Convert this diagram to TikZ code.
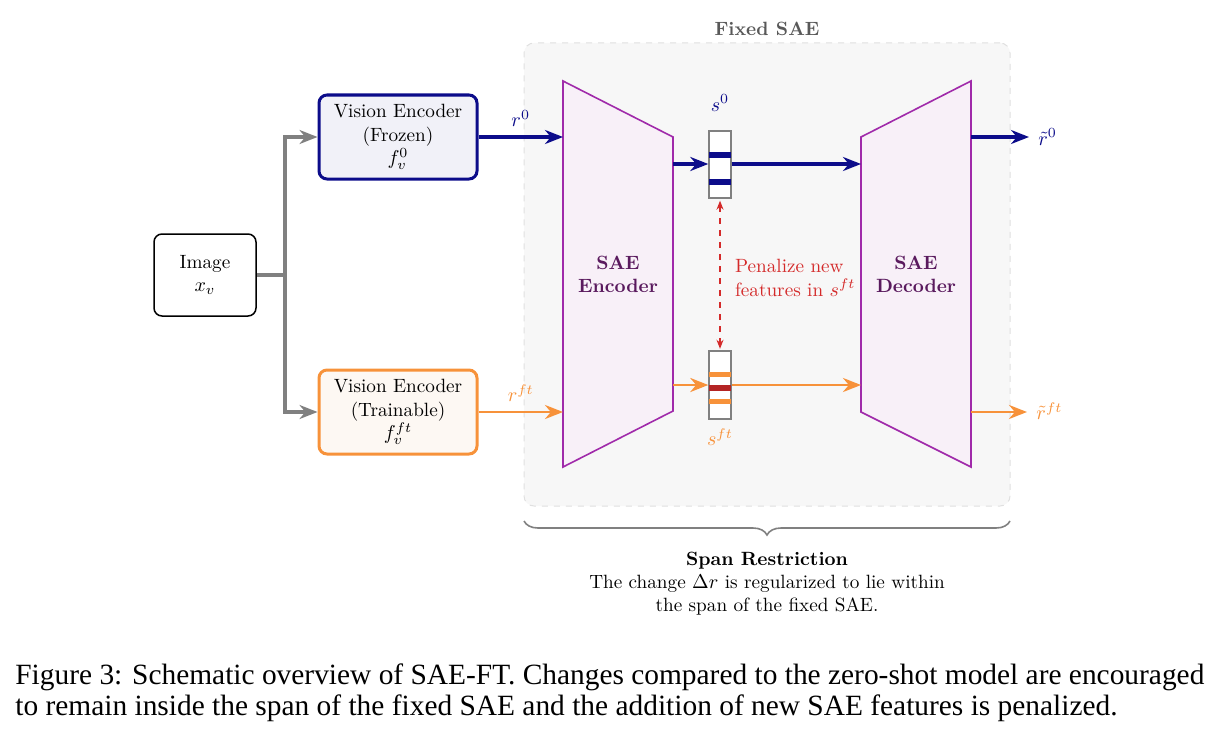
\documentclass[tikz,border=0pt]{standalone}
\usepackage{fontspec}
\newfontfamily\capfont{Liberation Serif}
\usetikzlibrary{arrows.meta,decorations.pathreplacing,calc}
\definecolor{navyc}{HTML}{0C0C8A}
\definecolor{orangec}{HTML}{F7923A}
\definecolor{redc}{HTML}{D42A2A}
\definecolor{purplec}{HTML}{A02AAA}
\definecolor{purpletext}{HTML}{5A1A5E}
\definecolor{grayc}{HTML}{808080}
\definecolor{saebg}{HTML}{F7F7F7}
\definecolor{trapfill}{HTML}{F8F0F8}
\definecolor{frozenfill}{HTML}{F1F1F8}
\definecolor{trainfill}{HTML}{FDF8F3}
\tikzset{
  every node/.style={font=\fontsize{9.6}{11.6}\selectfont},
  imgbox/.style={draw=black, line width=0.75pt, rounded corners=4pt, minimum width=51pt, minimum height=41pt, align=center, fill=white},
  encbox/.style={rounded corners=4pt, minimum width=79pt, minimum height=42pt, align=center, line width=1.5pt},
  graylink/.style={draw=grayc, line width=1.6pt, -{Stealth[length=9pt,width=7pt]}},
  navylink/.style={draw=navyc, line width=1.6pt, -{Stealth[length=9pt,width=7pt]}},
  orangelink/.style={draw=orangec, line width=1.45pt, -{Stealth[length=9pt,width=7pt]}},
  trap/.style={draw=purplec, fill=trapfill, line width=0.8pt},
  traplabel/.style={font=\fontsize{9.6}{11.6}\selectfont\bfseries, text=purpletext, align=center},
  vecbox/.style={draw=grayc, fill=white, line width=0.7pt, minimum width=11pt, minimum height=33.5pt, inner sep=0pt},
}
\begin{document}
\begin{tikzpicture}[x=0.5pt,y=-0.5pt]
\useasboundingbox (0,0) rectangle (1218,738);
% Fixed SAE background
\node[draw=black!12, dashed, fill=saebg, rounded corners=5pt, line width=0.5pt, minimum width=243pt, minimum height=231.5pt, inner sep=0pt] (sae) at (767,274.5) {};
\node[font=\fontsize{9.6}{11.6}\selectfont\bfseries, text=black!65] (saetitle) at (767,29) {Fixed SAE};

% Image and encoders
\node[imgbox] (img) at (205,275) {Image\\$x_v$};
\node[encbox, draw=navyc, fill=frozenfill] (frozen) at (398,137) {Vision Encoder\\(Frozen)\\$f_v^0$};
\node[encbox, draw=orangec, fill=trainfill] (train) at (398,412) {Vision Encoder\\(Trainable)\\$f_v^{ft}$};
\coordinate (split) at (285,275);
\draw[draw=grayc, line width=1.6pt] (img.east) -- (split);
\draw[graylink] (split) |- (frozen.west);
\draw[graylink] (split) |- (train.west);

% SAE encoder trapezoid
\coordinate (e1) at (563,81);
\coordinate (e2) at (673,137);
\coordinate (e3) at (673,411);
\coordinate (e4) at (563,467);
\draw[trap] (e1) -- (e2) -- (e3) -- (e4) -- cycle;
\node[traplabel] (enc) at (618,274) {SAE\\Encoder};
% SAE decoder trapezoid
\coordinate (d1) at (861,137);
\coordinate (d2) at (971,81);
\coordinate (d3) at (971,467);
\coordinate (d4) at (861,412);
\draw[trap] (d1) -- (d2) -- (d3) -- (d4) -- cycle;
\node[traplabel] (dec) at (916,274) {SAE\\Decoder};

% inputs to encoder
\coordinate (encin0) at (563,137);
\coordinate (encinft) at (563,412);
\draw[navylink] (frozen.east) -- node[above=1pt, text=navyc] (r0) {$r^0$} (encin0);
\draw[orangelink] (train.east) -- node[above=1pt, text=orangec] (rft) {$r^{ft}$} (encinft);

% latent vectors
\node[vecbox] (s0) at (720,164.5) {};
\fill[navyc] ($(s0.west)+(0,-13)$) rectangle ($(s0.east)+(0,-7)$);
\fill[navyc] ($(s0.west)+(0,14)$) rectangle ($(s0.east)+(0,20)$);
\draw[grayc, line width=0.7pt] (s0.south west) rectangle (s0.north east);
\node[text=navyc] (s0lab) at (720,103) {$s^0$};

\node[vecbox] (sft) at (720,385) {};
\fill[orangec] ($(sft.west)+(0,-13)$) rectangle ($(sft.east)+(0,-8)$);
\fill[redc!85!black] ($(sft.west)+(0,0)$) rectangle ($(sft.east)+(0,6)$);
\fill[orangec] ($(sft.west)+(0,14)$) rectangle ($(sft.east)+(0,19)$);
\draw[grayc, line width=0.7pt] (sft.south west) rectangle (sft.north east);
\node[text=orangec] (sftlab) at (720,437) {$s^{ft}$};

\coordinate (encout0) at (673,164);
\coordinate (encoutft) at (673,385);
\coordinate (decin0) at (861,164);
\coordinate (decinft) at (861,385);
\draw[navylink] (encout0) -- (encout0 -| s0.west);
\draw[navylink] (s0.east |- decin0) -- (decin0);
\draw[orangelink] (encoutft) -- (encoutft -| sft.west);
\draw[orangelink] (sft.east |- decinft) -- (decinft);

% penalty arrow
\draw[draw=redc, dashed, line width=0.65pt, {Stealth[length=4.5pt,width=3.5pt]}-{Stealth[length=4.5pt,width=3.5pt]}] ($(s0.south)+(0,2)$) -- ($(sft.north)+(0,-2)$);
\node[text=redc, align=left, anchor=west] (pen) at (728,278) {Penalize new\\features in $s^{ft}$};

% decoder outputs
\coordinate (decout0) at (971,137);
\coordinate (decoutft) at (971,412);
\coordinate (out0) at (1029,137);
\coordinate (outft) at (1027,412);
\draw[navylink] (decout0) -- (out0);
\draw[orangelink] (decoutft) -- (outft);
\node[text=navyc, anchor=west, inner sep=1pt] (rt0) at (1036,137) {$\tilde r^0$};
\node[text=orangec, anchor=west, inner sep=1pt] (rtft) at (1034,411) {$\tilde r^{ft}$};

% brace
\coordinate (bl) at (524,521);
\coordinate (br) at (1010,521);
\draw[draw=grayc, line width=0.8pt, decoration={brace, mirror, amplitude=7pt}, decorate] (bl) -- (br);
\node[align=center, anchor=north] (span) at (767,545) {\textbf{Span Restriction}\\The change $\Delta r$ is regularized to lie within\\the span of the fixed SAE.};

% caption
\node[anchor=west, align=left, inner sep=0pt, font=\capfont\fontsize{14.7}{15.6}\selectfont] (cap) at (15,693) {Figure 3: Schematic overview of SAE-FT. Changes compared to the zero-shot model are encouraged\\to remain inside the span of the fixed SAE and the addition of new SAE features is penalized.};
\end{tikzpicture}
\end{document}
